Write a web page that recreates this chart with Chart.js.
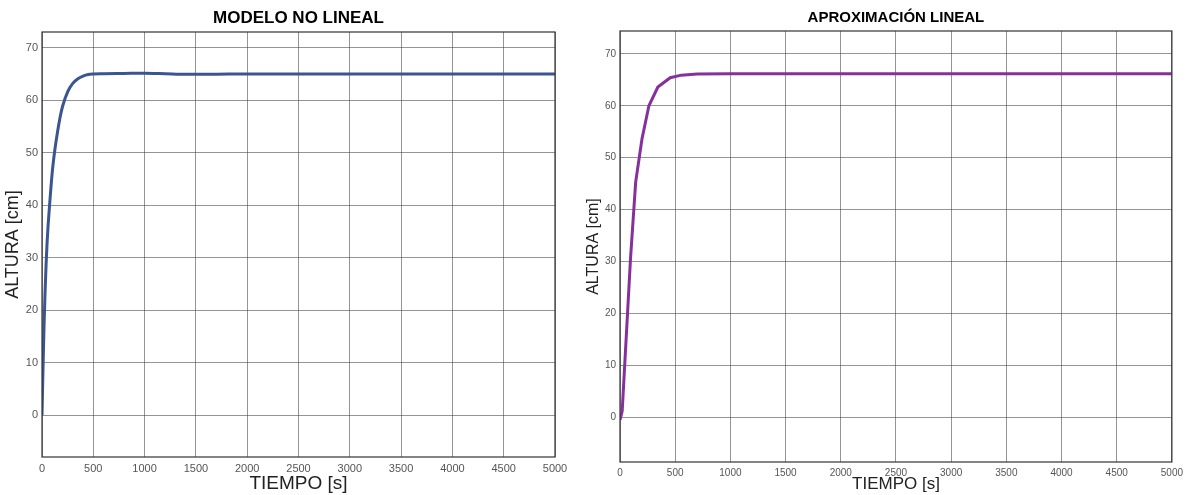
<!DOCTYPE html>
<html>
<head>
<meta charset="utf-8">
<script src="https://cdn.jsdelivr.net/npm/chart.js@4.4.1/dist/chart.umd.min.js"></script>
<style>
  body { margin: 0; background: #fff; }
  #wrap { position: relative; width: 1188px; height: 495px; }
  .box { position: absolute; top: 0; height: 495px; }
</style>
</head>
<body>
<div id="wrap">
  <div class="box" style="left:0;width:580px"><canvas id="nonLinearChart"></canvas></div>
  <div class="box" style="left:580px;width:608px"><canvas id="linearChart"></canvas></div>
</div>
<script>
// Modelo no lineal: tiempo [s] y altura [cm]
const nlTime = [0, 10, 20, 30, 40, 50, 60, 75, 100, 125, 150, 175, 200, 250, 300, 350, 400, 450, 500, 600, 800, 1000, 1200, 1400, 1700, 2000, 3000, 4000, 5000];
const nlHeight = [0, 9, 17, 23.5, 28.8, 33, 36.3, 40.3, 46.3, 50.5, 53.8, 56.6, 58.8, 61.6, 63.2, 64.1, 64.6, 64.9, 65.0, 65.05, 65.1, 65.15, 65.05, 64.93, 64.95, 65.0, 65.0, 65.0, 65.0];

// Aproximacion lineal
const linTime = [0, 20, 95, 142, 199, 262, 343, 455, 555, 700, 1000, 2000, 5000];
const linHeight = [-0.5, 1.2, 30.5, 45.3, 53.6, 60.0, 63.6, 65.4, 65.9, 66.1, 66.15, 66.15, 66.15];

const xTicks = [0, 500, 1000, 1500, 2000, 2500, 3000, 3500, 4000, 4500, 5000];
const yTicks = [0, 10, 20, 30, 40, 50, 60, 70];

// Frame round the plot area and the title centred over it
const frame = {
  id: "frame",
  afterDraw(chart, args, opts) {
    const a = chart.chartArea;
    const ctx = chart.ctx;
    ctx.save();
    ctx.strokeStyle = "#333";
    ctx.lineWidth = 1.2;
    ctx.strokeRect(a.left, a.top, a.right - a.left, a.bottom - a.top);
    ctx.fillStyle = "#000";
    ctx.font = "bold " + opts.size + "px 'Liberation Sans', Arial";
    ctx.textAlign = "center";
    ctx.textBaseline = "middle";
    ctx.fillText(opts.text, (a.left + a.right) / 2, opts.y);
    ctx.restore();
  },
};

function makeChart(id, cfg) {
  const points = cfg.x.map((x, i) => ({ x: x, y: cfg.y[i] }));
  return new Chart(document.getElementById(id), {
    type: "line",
    data: {
      datasets: [
        {
          data: points,
          borderColor: cfg.color,
          borderWidth: 3,
          pointRadius: 0,
          fill: false,
          tension: 0,
          cubicInterpolationMode: cfg.smooth ? "monotone" : "default",
        },
      ],
    },
    options: {
      responsive: false,
      animation: false,
      layout: { padding: { left: 0, right: cfg.padRight, top: cfg.padTop, bottom: 0 } },
      plugins: {
        legend: { display: false },
        tooltip: { enabled: false },
        title: { display: false },
        frame: { text: cfg.title, size: cfg.titleSize, y: 18 },
      },
      scales: {
        x: {
          type: "linear",
          min: 0,
          max: 5000,
          afterBuildTicks: (s) => { s.ticks = xTicks.map((v) => ({ value: v })); },
          afterFit: (s) => { s.height = cfg.xHeight; },
          grid: { color: "rgba(60,60,60,0.55)", lineWidth: 1, drawTicks: false },
          border: { display: false },
          ticks: {
            color: "#555",
            font: { family: "Liberation Sans, Arial", size: cfg.tickSize },
            padding: 5,
            maxRotation: 0,
            callback: (v) => String(v),
          },
          title: {
            display: true,
            text: "TIEMPO [s]",
            color: "#222",
            font: { family: "Liberation Sans, Arial", size: cfg.axisSize },
            padding: { top: cfg.xTitleTop, bottom: 0 },
          },
        },
        y: {
          min: cfg.yMin,
          max: cfg.yMax,
          afterBuildTicks: (s) => { s.ticks = yTicks.map((v) => ({ value: v })); },
          afterFit: (s) => { s.width = cfg.yWidth; },
          grid: { color: "rgba(60,60,60,0.55)", lineWidth: 1, drawTicks: false },
          border: { display: false },
          ticks: {
            color: "#555",
            font: { family: "Liberation Sans, Arial", size: cfg.tickSize },
            padding: 4,
            callback: (v) => String(v),
          },
          title: {
            display: true,
            text: "ALTURA [cm]",
            color: "#222",
            font: { family: "Liberation Sans, Arial", size: cfg.yAxisSize },
            padding: { top: cfg.yTitleTop, bottom: 0 },
          },
        },
      },
    },
    plugins: [frame],
  });
}

function sizeCanvas(id, w, h) {
  const c = document.getElementById(id);
  c.width = w;
  c.height = h;
  c.style.width = w + "px";
  c.style.height = h + "px";
}

sizeCanvas("nonLinearChart", 580, 495);
sizeCanvas("linearChart", 608, 495);

makeChart("nonLinearChart", {
  x: nlTime,
  y: nlHeight,
  color: "#3a5590",
  smooth: true,
  title: "MODELO NO LINEAL",
  titleSize: 17,
  padTop: 32,
  axisSize: 19,
  yAxisSize: 18,
  tickSize: 11,
  xTitleTop: 4,
  xHeight: 38,
  yWidth: 42,
  yTitleTop: 2,
  yMin: -8,
  yMax: 73,
  padRight: 25,
});

makeChart("linearChart", {
  x: linTime,
  y: linHeight,
  color: "#86309c",
  smooth: false,
  title: "APROXIMACIÓN LINEAL",
  titleSize: 15,
  padTop: 31,
  axisSize: 17,
  yAxisSize: 16,
  tickSize: 10,
  xTitleTop: 5,
  xHeight: 33,
  yWidth: 40,
  yTitleTop: 4,
  yMin: -8.6,
  yMax: 74.4,
  padRight: 14,
});
</script>
</body>
</html>
